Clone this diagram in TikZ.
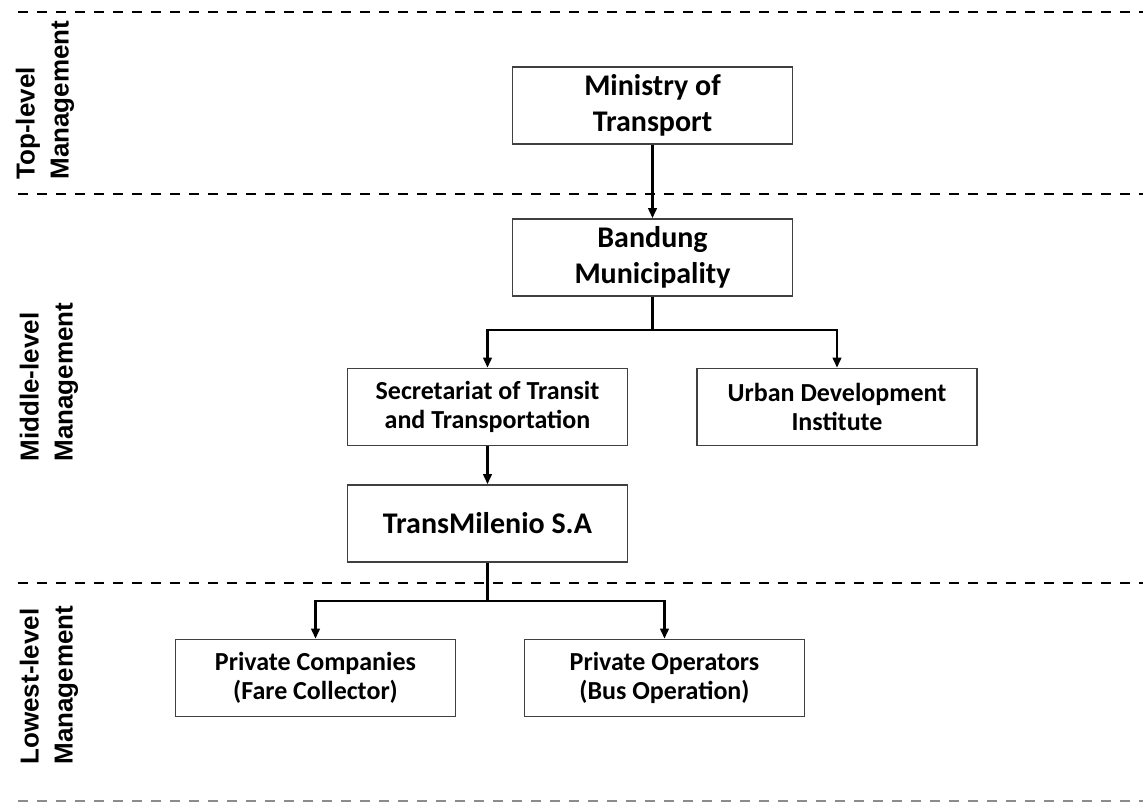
\documentclass[tikz,border=0pt]{standalone}
\usepackage{fontspec}
\setmainfont{Carlito}
\newfontfamily\levelfont{Liberation Sans}
\usepackage{tikz}
\usetikzlibrary{arrows.meta,positioning}
\tikzset{every picture/.style={line width=1.6pt}}
\tikzstyle{unit}=[draw=black!75,line width=1.1pt,fill=white,minimum width=210pt,minimum height=58pt,align=center,inner sep=2pt]
\tikzstyle{big}=[font=\fontsize{22.5}{26.5}\selectfont\bfseries]
\tikzstyle{small}=[font=\fontsize{19.5}{21.5}\selectfont\bfseries]
\tikzstyle{level}=[rotate=90,align=left,font=\levelfont\fontsize{19.5}{25.5}\selectfont\bfseries]
\tikzstyle{sep}=[line width=1.9pt,dashed,dash pattern=on 7.5pt off 6.75pt]
\tikzstyle{arr}=[-{Triangle[length=7.5pt,width=6.5pt]}]

\begin{document}
\begin{tikzpicture}
  [x=0.75pt,y=-0.75pt]
  \useasboundingbox (0,0) rectangle (1143,802);
  % level separators
  \draw[sep] (18,12) -- (1143,12);
  \draw[sep] (18,194) -- (1143,194);
  \draw[sep] (18,583) -- (1143,583);
  \draw[sep,black!45] (18,801) -- (1143,801);
  % levels
  \node[level] (top) at (45,100) {Top-level\\Management};
  \node[level] (mid) at (49,382) {Middle-level\\Management};
  \node[level] (low) at (49,685) {Lowest-level\\Management};
  % units
  \node[unit,big] (min) at (652.5,105.5) {Ministry of\\Transport};
  \node[unit,big] (ban) at (652.5,257.5) {Bandung\\Municipality};
  \node[unit,small] (sec) at (487.5,407) {Secretariat of Transit\\and Transportation};
  \node[unit,small] (urb) at (837,407) {Urban Development\\Institute};
  \node[unit,big] (tm) at (487.5,523.5) {TransMilenio S.A};
  \node[unit,small] (pc) at (315.5,678) {Private Companies\\(Fare Collector)};
  \node[unit,small] (po) at (664.5,678) {Private Operators\\(Bus Operation)};
  \coordinate (j1) at (652.5,330);
  \coordinate (j2) at (487.5,601);
\path[arr]
(min) edge (ban)
(sec) edge (tm);
\draw (ban) -- (j1);
\draw[arr] (j1) -| (sec);
\draw[arr] (j1) -| (urb);
\draw (tm) -- (j2);
\draw[arr] (j2) -| (pc);
\draw[arr] (j2) -| (po);
\end{tikzpicture}
\end{document}
